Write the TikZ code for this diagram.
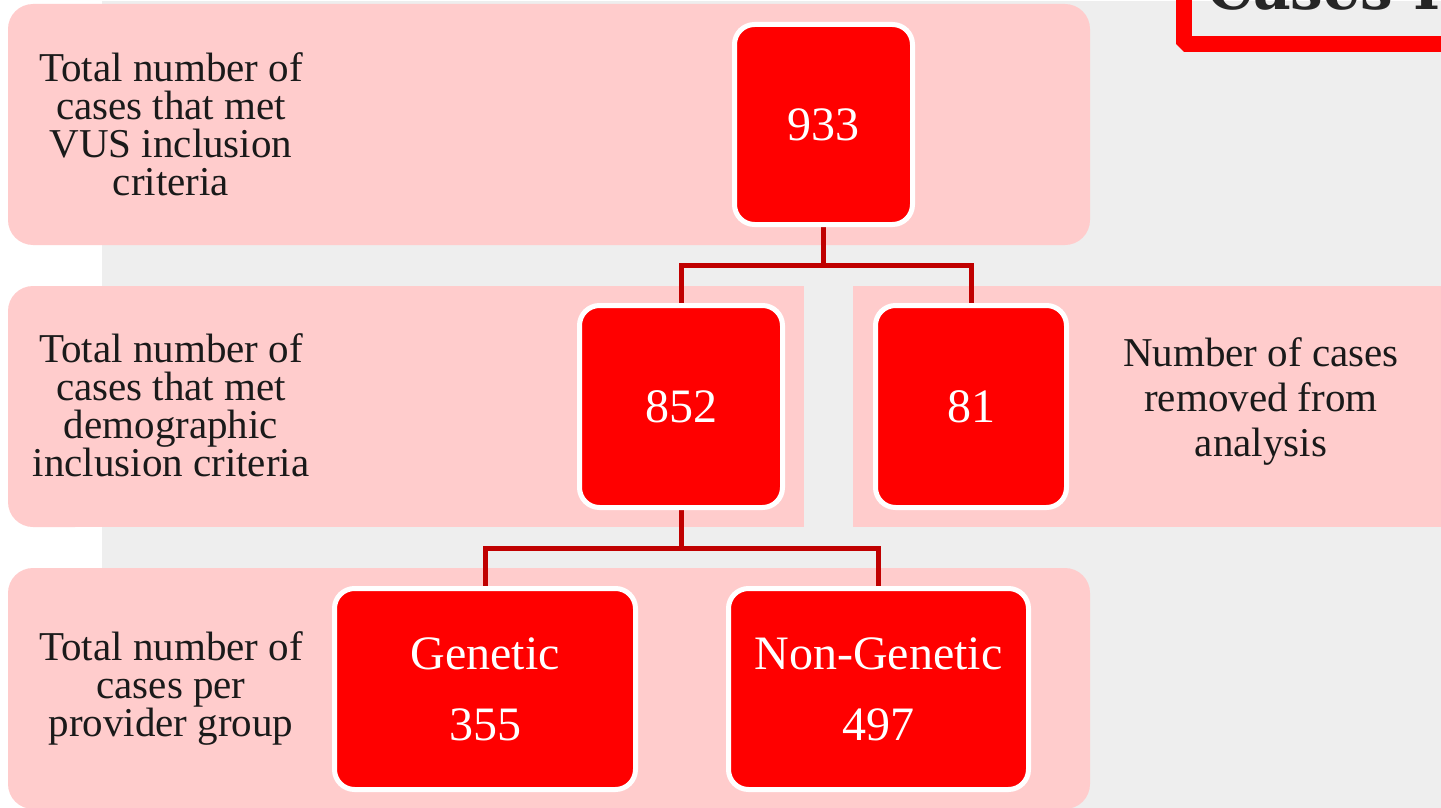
\documentclass[tikz,border=0pt]{standalone}
\usepackage{fontspec}
\setmainfont{Liberation Serif}
\newfontfamily\titlefont{DejaVu Serif}
\definecolor{bggray}{HTML}{EEEEEE}
\definecolor{bandpink}{HTML}{FFCCCC}
\definecolor{boxred}{HTML}{FF0000}
\definecolor{linered}{HTML}{C00000}
\definecolor{txtdark}{HTML}{1A1A1A}
\definecolor{titlegray}{HTML}{262626}
\pgfdeclarelayer{conns}
\pgfsetlayers{conns,main}
\tikzset{
  band/.style={fill=bandpink, draw=none},
  redbox/.style={draw=white, line width=5pt, fill=boxred, rounded corners=20pt,
    text=white, align=center, inner sep=0pt,
    font=\fontsize{48}{71}\selectfont},
  sidelabel/.style={text=txtdark, align=center, inner sep=0pt,
    font=\fontsize{41}{38}\selectfont},
  rightlabel/.style={text=txtdark, align=center, inner sep=0pt,
    font=\fontsize{41}{45}\selectfont},
  conn/.style={draw=linered, line width=5pt},
}
\begin{document}
\begin{tikzpicture}[x=1pt, y=-1pt]
\useasboundingbox (0,0) rectangle (1441,808);
\clip (0,0) rectangle (1441,808);
\begin{pgfonlayer}{conns}
% background
\fill[white] (0,0) rectangle (1441,808);
\fill[bggray] (102,1) rectangle (1441,808);
% title frame (top right)
\draw[boxred, line width=16pt, line join=bevel] (1183.5,-40) -- (1183.5,44) -- (1520,44);
% bands
\fill[band, rounded corners=25pt] (8,4) rectangle (1090,245);
\fill[band, rounded corners=25pt] (8,286) rectangle (100,527);
\fill[band] (50,286) rectangle (804,527);
\fill[band] (853,286) rectangle (1441,527);
\fill[band, rounded corners=25pt] (8,568) rectangle (1090,809);
\end{pgfonlayer}
\node[anchor=base west, inner sep=0pt, text=titlegray, font=\titlefont\bfseries\fontsize{58}{60}\selectfont] (title) at (1207,10) {Cases R};
% side labels
\node[sidelabel] (l1) at (171,124) {Total number of\\cases that met\\VUS inclusion\\criteria};
\node[sidelabel] (l2) at (171,405) {Total number of\\cases that met\\demographic\\inclusion criteria};
\node[sidelabel] (l3) at (171,688) {Total number of\\cases per\\provider group};
\node[rightlabel] (r2) at (1261,401) {Number of cases\\removed from\\analysis};
% red boxes
\node[redbox, minimum width=178pt, minimum height=200pt] (n933) at (823.5,124.5) {933};
\node[redbox, minimum width=203pt, minimum height=202pt] (n852) at (681,406.5) {852};
\node[redbox, minimum width=191pt, minimum height=202pt] (n81) at (971,406.5) {81};
\node[redbox, minimum width=301pt, minimum height=201pt] (gen) at (485,689) {Genetic\\355};
\node[redbox, minimum width=300pt, minimum height=201pt] (non) at (878.5,689) {Non-Genetic\\497};
% connectors (behind boxes)
\begin{pgfonlayer}{conns}
\coordinate (j1) at (n933.south |- 0,265.5);
\coordinate (j2) at (n852.south |- 0,548);
\draw[conn] (n933.south) -- (j1);
\draw[conn] (j1) -| (n852.north);
\draw[conn] (j1) -| (n81.north);
\draw[conn] (n852.south) -- (j2);
\draw[conn] (j2) -| (gen.north);
\draw[conn] (j2) -| (non.north);
\end{pgfonlayer}
\end{tikzpicture}
\end{document}
